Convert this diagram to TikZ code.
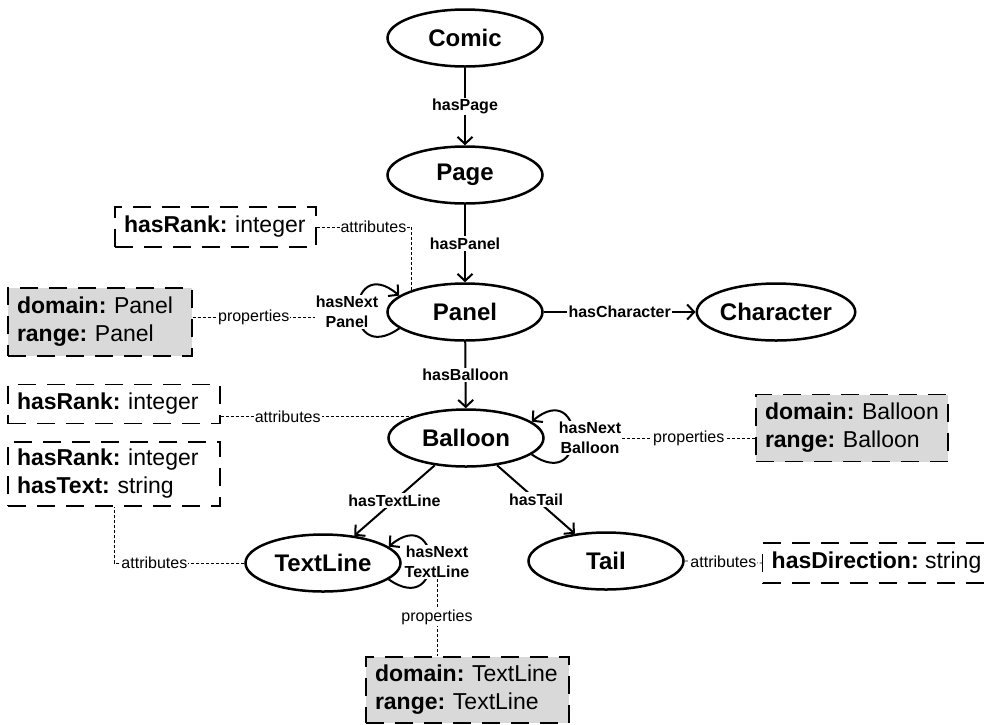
\documentclass[tikz,border=0pt]{standalone}
\usepackage{fontspec}
\setmainfont{Liberation Sans}
\usetikzlibrary{arrows.meta,shapes.geometric,calc}
\definecolor{boxgray}{HTML}{D9D9D9}
\begin{document}
\frenchspacing
\begin{tikzpicture}[x=1pt,y=1pt,
  cls/.style={ellipse, draw, line width=2.5pt, minimum width=155pt, minimum height=57pt, inner sep=0pt, font=\fontsize{24}{28}\selectfont\bfseries},
  edge/.style={line width=2pt, -{Straight Barb[length=7pt,width=15pt]}},
  elabel/.style={fill=white, inner sep=1.5pt, font=\fontsize{16}{19}\selectfont\bfseries},
  looplabel/.style={fill=white, inner sep=1pt, align=center, font=\fontsize{16}{20}\selectfont\bfseries},
  conn/.style={line width=0.8pt, dash pattern=on 3pt off 2pt},
  clabel/.style={fill=white, inner sep=1pt, font=\fontsize{16}{19}\selectfont},
  infobox/.style={draw, line width=1.4pt, dash pattern=on 18pt off 11pt, align=left, inner xsep=9pt, inner ysep=0pt, font=\fontsize{23}{28}\selectfont},
  graybox/.style={infobox, fill=boxgray}
]
\useasboundingbox (0,0) rectangle (988,-724);

% class nodes
\node[cls] (Comic) at (465,-38) {Comic};
\node[cls] (Page) at (465,-175) {Page};
\node[cls] (Panel) at (465,-312) {Panel};
\node[cls] (Character) at (776,-312) {Character};
\node[cls] (Balloon) at (466,-438) {Balloon};
\node[cls] (TextLine) at (323,-563) {TextLine};
\node[cls] (Tail) at (606,-561) {Tail};

% info boxes
\node[infobox, text width=183pt, minimum height=40pt] (rankA) at (215.5,-227) {\textbf{hasRank:} integer};
\node[graybox, text width=166pt, minimum height=68pt] (propPanel) at (100,-322) {\textbf{domain:} Panel\\\textbf{range:} Panel};
\node[infobox, text width=194pt, minimum height=39pt] (rankB) at (114,-404) {\textbf{hasRank:} integer};
\node[infobox, text width=194pt, minimum height=64pt] (rankText) at (114,-474) {\textbf{hasRank:} integer\\\textbf{hasText:} string};
\node[graybox, text width=174pt, minimum height=67pt] (propBalloon) at (852,-428) {\textbf{domain:} Balloon\\\textbf{range:} Balloon};
\node[infobox, minimum width=232pt, minimum height=40pt, anchor=west] (tailAttr) at (762,-563) {\textbf{hasDirection:} string\hspace{8pt}};
\node[graybox, text width=185pt, minimum height=66pt] (propTextLine) at (467.5,-690) {\textbf{domain:} TextLine\\\textbf{range:} TextLine};

% edges
\draw[edge] (Comic) -- node[elabel]{hasPage} (Page);
\draw[edge] (Page) -- node[elabel]{hasPanel} (Panel);
\draw[edge] (Panel) -- node[elabel]{hasCharacter} (Character);
\draw[edge] (Panel) -- node[elabel]{hasBalloon} (Balloon);
\draw[edge] (Balloon) -- node[elabel]{hasTextLine} (TextLine);
\draw[edge] (Balloon) -- node[elabel]{hasTail} (Tail);

% self loops
\draw[edge] (Panel.194) .. controls +(215:70) and +(140:70) .. (Panel.166);
\draw[edge] (Balloon.-14) .. controls +(-35:70) and +(40:70) .. (Balloon.14);
\draw[edge] (TextLine.-14) .. controls +(-35:70) and +(40:70) .. (TextLine.14);
\node[looplabel] (lblP) at (347,-312) {hasNext\\Panel};
\node[looplabel] (lblB) at (590,-438) {hasNext\\Balloon};
\node[looplabel] (lblT) at (437,-562) {hasNext\\TextLine};

% dashed connectors
\draw[conn] (rankA.east) -| node[clabel, pos=0.3]{attributes} (Panel.158);
\draw[conn] ([yshift=5pt]propPanel.east) -- node[clabel]{properties} ([yshift=5pt]propPanel.east -| lblP.west);
\draw[conn] (rankB.east |- Balloon.158) -- node[clabel, pos=0.35]{attributes} (Balloon.158);
\draw[conn] (lblB.east) -- node[clabel]{properties} (lblB.east -| propBalloon.west);
\draw[conn] (TextLine.west) -| node[clabel, pos=0.345]{attributes} (rankText.south);
\draw[conn] (Tail.east) -- node[clabel]{attributes} (tailAttr.west);
\draw[conn] (lblT.south) -- node[clabel]{properties} (lblT.south |- propTextLine.north);
\end{tikzpicture}
\end{document}
